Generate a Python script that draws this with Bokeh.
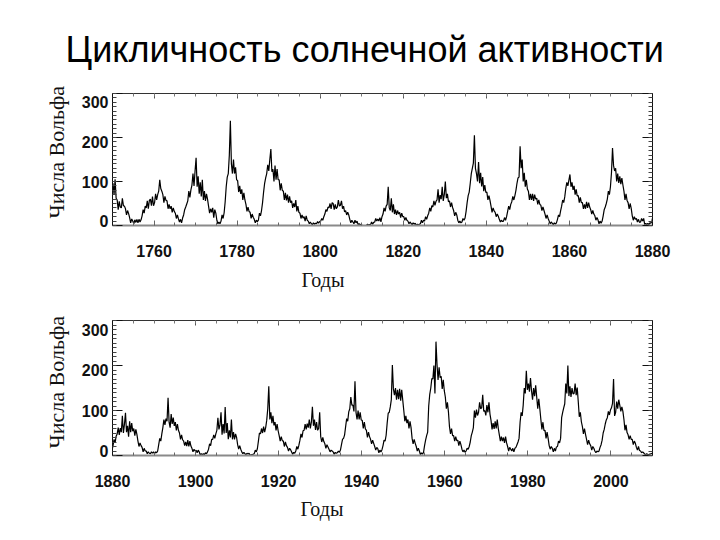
import numpy as np
from bokeh.plotting import figure
from bokeh.models import (Range1d, LinearAxis, SingleIntervalTicker, FixedTicker, Title,
                          CustomJSTickFormatter)
from bokeh.layouts import column
from bokeh.embed import file_html
from bokeh.resources import INLINE

# Wolf sunspot numbers, four readings per year, by decade
s1740 = [72, 104, 63, 88]
s1750 = [96, 70, 105, 62, 58, 36, 55, 42, 40, 62, 45, 44, 38, 24, 34, 27, 18, 6, 15, 10,
         4, 13, 7, 14, 6, 14, 8, 13, 22, 36, 28, 44, 40, 56, 38, 57, 60, 45, 66, 45]
s1760 = [52, 72, 58, 70, 78, 104, 84, 78, 70, 52, 66, 57, 56, 38, 48, 38, 44, 30, 40, 32,
         28, 16, 24, 15, 8, 14, 6, 17, 24, 36, 42, 49, 56, 78, 64, 81, 92, 118, 90, 124]
s1770 = [154, 88, 112, 72, 98, 66, 104, 58, 78, 56, 72, 60, 44, 28, 38, 30, 40, 18, 36, 28,
         12, 4, 8, 4, 10, 24, 16, 29, 54, 88, 110, 118, 160, 238, 140, 118, 150, 118, 132, 104]
s1780 = [102, 76, 90, 72, 82, 58, 74, 58, 48, 32, 42, 32, 30, 16, 26, 19, 14, 6, 12, 9,
         12, 28, 22, 34, 52, 76, 96, 108, 118, 138, 124, 150, 174, 122, 128, 100, 136, 104, 128, 104]
s1790 = [104, 80, 96, 80, 78, 58, 74, 57, 70, 52, 66, 52, 56, 40, 50, 42, 58, 32, 44, 30,
         28, 16, 24, 17, 20, 10, 22, 12, 10, 4, 8, 4, 2, 6, 3, 5, 4, 9, 5, 9]
s1800 = [10, 16, 12, 20, 26, 36, 32, 42, 40, 50, 38, 52, 50, 36, 48, 38, 42, 58, 44, 46,
         56, 38, 44, 31, 34, 24, 30, 24, 14, 6, 12, 8, 4, 12, 6, 10, 2, 4, 1, 3]
s1810 = [0, 0, 0, 0, 0, 3, 1, 2, 2, 8, 3, 7, 8, 16, 10, 15, 10, 18, 8, 20,
         26, 40, 32, 44, 48, 88, 40, 34, 62, 30, 48, 26, 36, 24, 34, 26, 30, 18, 28, 20]
s1820 = [20, 12, 18, 12, 10, 4, 8, 5, 2, 6, 3, 5, 0, 3, 1, 3, 4, 12, 6, 12,
         10, 20, 14, 22, 28, 40, 32, 45, 42, 56, 46, 55, 58, 82, 52, 69, 60, 88, 56, 70]
s1830 = [100, 62, 72, 54, 56, 42, 52, 41, 34, 22, 30, 24, 12, 6, 10, 6, 8, 16, 12, 17,
         32, 52, 68, 76, 96, 118, 130, 142, 205, 130, 118, 100, 144, 96, 120, 89, 110, 78, 92, 75]
s1840 = [76, 58, 68, 57, 44, 30, 40, 33, 30, 20, 26, 21, 14, 8, 12, 9, 10, 18, 12, 20,
         32, 44, 36, 48, 54, 66, 58, 68, 80, 96, 108, 110, 180, 130, 150, 100, 120, 88, 104, 83]
s1850 = [78, 58, 72, 58, 72, 56, 70, 60, 62, 48, 58, 48, 46, 34, 42, 34, 26, 16, 24, 16,
         10, 4, 8, 5, 2, 6, 3, 6, 14, 24, 20, 33, 44, 58, 52, 65, 84, 98, 90, 103]
s1860 = [116, 88, 98, 81, 90, 70, 82, 67, 68, 52, 64, 52, 52, 38, 48, 38, 54, 40, 52, 42,
         36, 26, 34, 26, 22, 12, 18, 13, 4, 10, 5, 10, 22, 36, 42, 50, 60, 78, 70, 88]
s1870 = [120, 176, 136, 124, 130, 100, 118, 97, 112, 94, 108, 92, 78, 58, 72, 57, 52, 38, 50, 39,
         22, 12, 20, 14, 16, 8, 14, 7, 8, 16, 10, 16, 2, 5, 2, 5, 2, 6, 5, 11]
s1880 = [22, 36, 28, 43, 48, 62, 46, 61, 52, 88, 50, 69, 95, 52, 66, 42, 76, 52, 72, 54,
         60, 44, 58, 47, 32, 20, 28, 22, 18, 8, 16, 10, 10, 4, 8, 5, 4, 8, 5, 8]
s1890 = [4, 8, 6, 10, 24, 38, 32, 48, 62, 80, 68, 82, 76, 128, 74, 62, 92, 70, 84, 66,
         74, 56, 70, 56, 50, 36, 46, 35, 32, 22, 30, 21, 34, 20, 32, 21, 16, 8, 14, 10]
s1900 = [12, 6, 12, 8, 1, 4, 2, 4, 2, 6, 4, 8, 14, 26, 22, 36, 36, 46, 38, 48,
         56, 84, 58, 68, 96, 46, 70, 49, 108, 50, 72, 36, 56, 40, 80, 36, 52, 36, 48, 40]
s1910 = [24, 14, 22, 14, 8, 4, 7, 4, 2, 5, 3, 5, 0, 2, 1, 3, 4, 12, 8, 15,
         32, 50, 48, 60, 50, 64, 52, 62, 78, 104, 154, 80, 96, 72, 88, 67, 74, 56, 70, 55]
s1920 = [44, 32, 42, 33, 32, 20, 30, 22, 18, 10, 16, 13, 8, 3, 7, 5, 10, 20, 14, 23,
         34, 48, 40, 55, 56, 70, 58, 71, 62, 80, 60, 74, 108, 66, 80, 57, 74, 56, 60, 96]
s1930 = [42, 30, 40, 31, 26, 16, 24, 19, 14, 8, 12, 10, 8, 3, 7, 5, 6, 10, 7, 12,
         24, 36, 38, 46, 64, 82, 76, 97, 104, 130, 112, 112, 98, 165, 96, 80, 100, 80, 96, 79]
s1940 = [78, 60, 74, 59, 56, 40, 52, 42, 36, 26, 34, 27, 20, 12, 18, 15, 6, 12, 8, 13,
         22, 34, 32, 45, 72, 94, 96, 108, 124, 201, 148, 134, 150, 124, 146, 125, 148, 122, 146, 123]
s1950 = [100, 76, 88, 72, 80, 60, 76, 62, 38, 26, 36, 27, 20, 10, 16, 10, 2, 6, 3, 7,
         22, 34, 44, 52, 110, 136, 150, 171, 170, 200, 138, 253, 202, 168, 196, 173, 176, 148, 168, 144]
s1960 = [130, 104, 118, 97, 64, 48, 60, 44, 44, 32, 42, 33, 34, 22, 32, 24, 14, 8, 12, 7,
         10, 16, 14, 20, 30, 44, 52, 62, 100, 84, 102, 89, 96, 118, 104, 106, 135, 98, 100, 89]
s1970 = [112, 96, 118, 92, 78, 58, 72, 59, 76, 60, 80, 60, 46, 32, 42, 32, 40, 28, 42, 28,
         20, 10, 18, 14, 10, 16, 8, 16, 18, 24, 30, 38, 74, 96, 88, 112, 150, 138, 188, 146]
s1980 = [160, 142, 172, 144, 124, 150, 132, 156, 130, 104, 126, 104, 80, 58, 74, 55, 56, 38, 52, 38,
         22, 14, 20, 16, 8, 16, 10, 19, 20, 32, 28, 38, 84, 96, 106, 115, 160, 138, 200, 132]
s1990 = [154, 130, 150, 137, 138, 160, 134, 151, 120, 86, 96, 75, 64, 48, 60, 47, 36, 24, 34, 26,
         22, 12, 20, 16, 10, 6, 10, 8, 10, 18, 24, 34, 50, 58, 70, 79, 84, 98, 90, 101]
s2000 = [106, 116, 170, 88, 96, 120, 104, 124, 112, 98, 108, 98, 80, 56, 68, 51, 46, 36, 44, 36,
         36, 24, 32, 27, 18, 12, 20, 11, 10, 6, 8, 6, 3, 2, 4, 2, 2, 3, 4, 5]

first_year = 1749
per_year = 4
y_ticks = [0, 100, 200, 300]

title_text = "Цикличность солнечной активности"
y_title = "Числа Вольфа"
x_title = "Годы"

ssn = np.array(s1740 + s1750 + s1760 + s1770 + s1780 + s1790 + s1800 + s1810 + s1820 + s1830 +
               s1840 + s1850 + s1860 + s1870 + s1880 + s1890 + s1900 + s1910 + s1920 + s1930 +
               s1940 + s1950 + s1960 + s1970 + s1980 + s1990 + s2000, dtype=float)
t = first_year + (np.arange(len(ssn)) + 0.5) / per_year

SANS = "Liberation Sans"
SERIF = "Liberation Serif"


def panel(x0, x1, height, top, bottom, y_title_offset, x_title_offset, x_title_standoff):
    p = figure(width=720, height=height, x_range=Range1d(x0, x1), y_range=Range1d(0, 300),
               x_axis_type=None, y_axis_type=None, output_backend="svg", toolbar_location=None,
               min_border_left=112, min_border_right=68, min_border_top=top,
               min_border_bottom=bottom, title=None)
    p.outline_line_color = None
    p.background_fill_color = "white"
    p.border_fill_color = "white"

    xt = SingleIntervalTicker(interval=20, num_minor_ticks=4)
    yt = SingleIntervalTicker(interval=100, num_minor_ticks=10)
    blank = CustomJSTickFormatter(code="return ''")

    bx = LinearAxis(ticker=xt)
    bx.axis_line_color = "#8a8a8a"
    bx.axis_line_width = 2
    bx.major_tick_in = 5
    bx.major_tick_out = 0
    bx.minor_tick_in = 3
    bx.minor_tick_out = 0
    bx.major_tick_line_color = "#666666"
    bx.minor_tick_line_color = "#666666"
    bx.major_label_text_font = SANS
    bx.major_label_text_font_style = "bold"
    bx.major_label_text_font_size = "16px"
    bx.major_label_text_color = "#111111"
    bx.major_label_standoff = 19
    p.add_layout(bx, "below")

    tx = LinearAxis(ticker=xt, formatter=blank)
    tx.axis_line_color = "#333333"
    tx.major_tick_in = 5
    tx.major_tick_out = 0
    tx.minor_tick_in = 3
    tx.minor_tick_out = 0
    tx.major_tick_line_color = "#555555"
    tx.minor_tick_line_color = "#777777"
    tx.major_label_text_font_size = "0px"
    tx.major_label_standoff = 0
    p.add_layout(tx, "above")

    for side in ("left", "right"):
        ax = LinearAxis(ticker=yt, formatter=blank)
        ax.axis_line_color = "#111111"
        ax.major_tick_in = 10
        ax.major_tick_out = 0
        ax.minor_tick_in = 4
        ax.minor_tick_out = 0
        ax.major_tick_line_color = "#111111"
        ax.minor_tick_line_color = "#444444"
        ax.major_label_text_font_size = "0px"
        ax.major_label_standoff = 0
        p.add_layout(ax, side)

    # y tick labels, set slightly inward from the ticks as in the picture
    pos = [10 + 0.9 * v for v in y_ticks]
    ly = LinearAxis(ticker=FixedTicker(ticks=pos),
                    major_label_overrides={q: str(v) for q, v in zip(pos, y_ticks)})
    ly.axis_line_color = None
    ly.major_tick_line_color = None
    ly.minor_tick_line_color = None
    ly.major_tick_in = 0
    ly.major_tick_out = 0
    ly.major_label_standoff = 4
    ly.major_label_text_font = SANS
    ly.major_label_text_font_style = "bold"
    ly.major_label_text_font_size = "16px"
    ly.major_label_text_color = "#111111"
    p.add_layout(ly, "left")

    p.add_layout(Title(text=y_title, align="left", offset=y_title_offset, standoff=20,
                       text_font=SERIF, text_font_size="22px", text_font_style="normal",
                       text_color="#111111"), "left")
    p.add_layout(Title(text=x_title, align="left", offset=x_title_offset,
                       standoff=x_title_standoff, text_font=SERIF, text_font_size="20px",
                       text_font_style="normal", text_color="#111111"), "below")

    p.line(t, ssn, line_color="black", line_width=1.2)
    return p


# top panel: frame 112..652 x 93..228
p1 = panel(1750, 1880, 298, 93, 70, 7, 189, 15)
p1.add_layout(Title(text=title_text, align="left", offset=-47, standoff=48,
                    text_font=SANS, text_font_size="36px", text_font_style="normal",
                    text_color="black"), "above")

# bottom panel: frame 320..455
p2 = panel(1880, 2010, 242, 22, 85, 7, 188, 12)

layout = column(p1, p2, spacing=0)
open("out.html", "w").write(file_html(layout, INLINE))
